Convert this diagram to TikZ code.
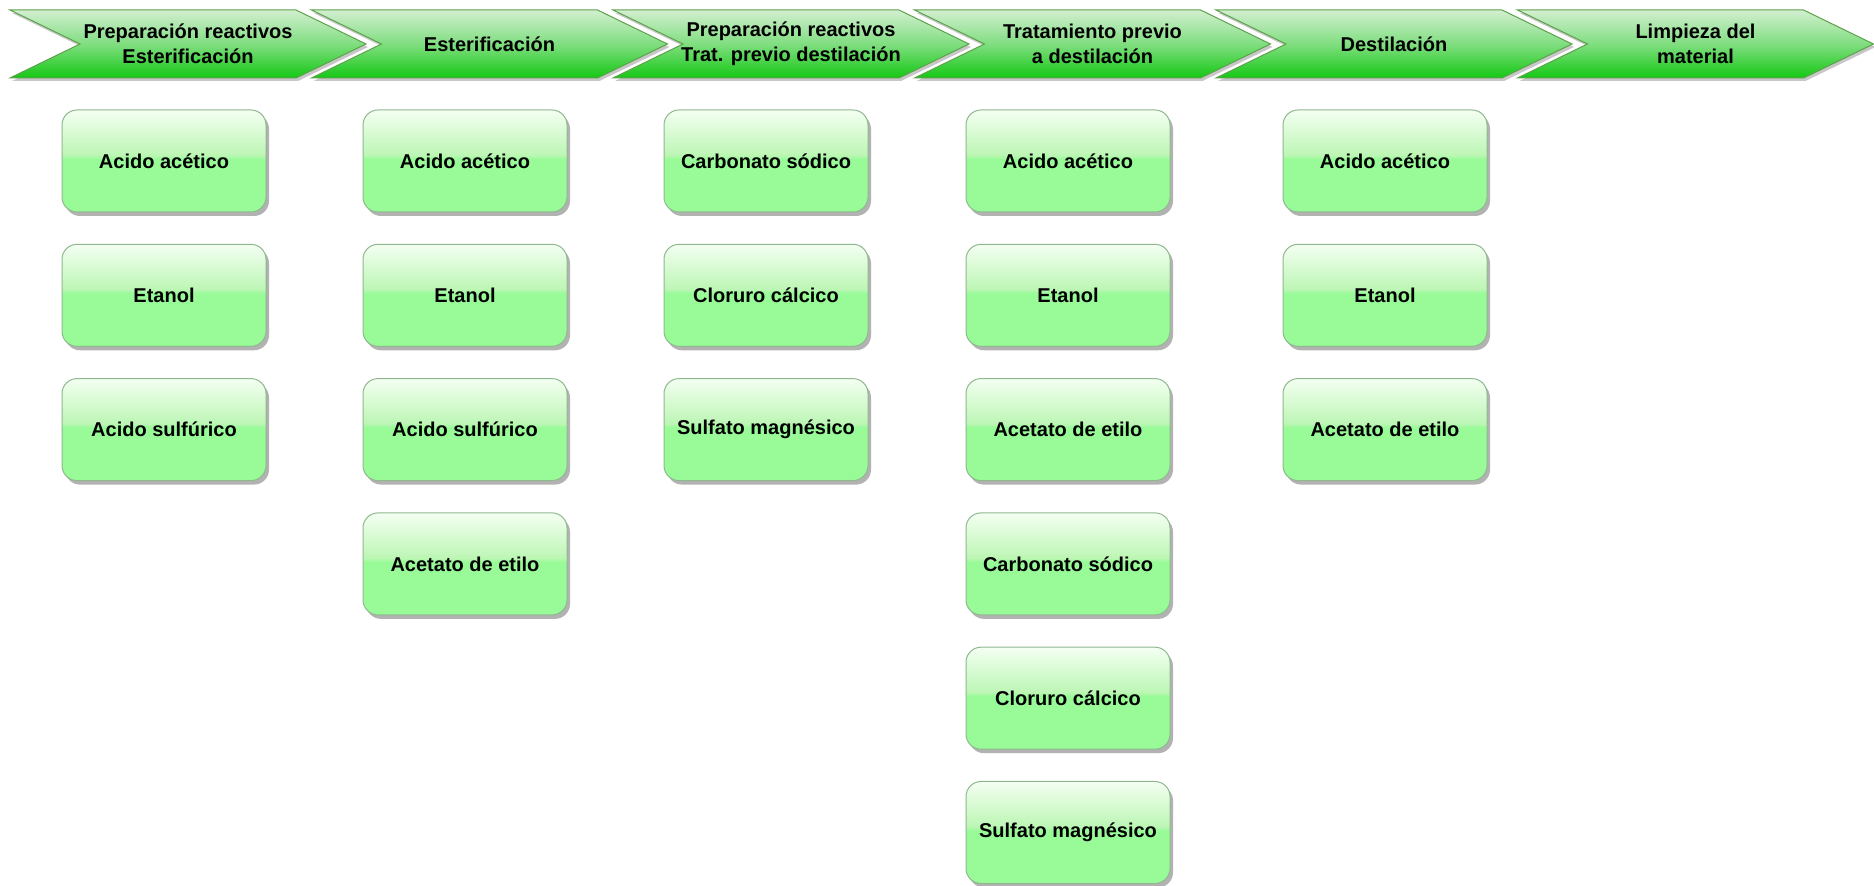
\documentclass[tikz,border=0pt]{standalone}
\usepackage{fontspec}
\setmainfont{Liberation Sans}
\usetikzlibrary{shadows}
\definecolor{boxT}{HTML}{F4FFF2}
\definecolor{boxM}{HTML}{BDF6B5}
\definecolor{boxB}{HTML}{98FB98}
\definecolor{boxE}{HTML}{8FB88F}
\definecolor{chevT}{HTML}{D2EFD0}
\definecolor{chevM}{HTML}{80DE80}
\definecolor{chevB}{HTML}{14C814}
\definecolor{chevE}{HTML}{5DA24A}
\pgfdeclareverticalshading{gloss}{100bp}{color(0bp)=(boxB); color(25bp)=(boxB); color(51bp)=(boxB); color(53bp)=(boxM); color(75bp)=(boxT); color(100bp)=(boxT)}
\tikzset{
  chevshape/.style={draw=chevE, line width=0.5pt, top color=chevT, bottom color=chevB, middle color=chevM},
  chevshadow/.style={fill=black!22},
  chevtext/.style={font=\fontsize{10}{12.5}\selectfont\bfseries, align=center, inner sep=0pt},
  itembox/.style={rounded corners=7.5pt, minimum width=102pt, minimum height=51pt, inner sep=0pt,
    draw=boxE, line width=0.5pt, shading=gloss,
    drop shadow={shadow xshift=1.5pt, shadow yshift=-2pt, opacity=0.3, fill=black},
    font=\fontsize{10}{12.5}\selectfont\bfseries}
}
\newcommand\mychev[3]{%
  \fill[chevshadow] ({#2+2},13) -- ({#2+288},13) -- ({#2+358},47) -- ({#2+288},81) -- ({#2+2},81) -- ({#2+72},47) -- cycle;
  \path[chevshape] (#2,10) -- ({#2+286},10) -- ({#2+356},44) -- ({#2+286},78) -- (#2,78) -- ({#2+70},44) -- cycle;
  \node[chevtext] (#1) at ({#2+178},44) {#3};
}
\begin{document}
\begin{tikzpicture}[x=0.5pt, y=-0.5pt]
\useasboundingbox (0,0) rectangle (1874,886);
\mychev{c1}{10}{Preparación reactivos\\Esterificación}
\mychev{c2}{311.5}{Esterificación}
\mychev{c3}{613}{Preparación reactivos\\Trat. previo destilación}
\mychev{c4}{914.5}{Tratamiento previo\\a destilación}
\mychev{c5}{1216}{Destilación}
\mychev{c6}{1517.5}{Limpieza del\\material}
% column 1
\node[itembox] (a1) at (164,161) {Acido acético};
\node[itembox] (a2) at (164,295.3) {Etanol};
\node[itembox] (a3) at (164,429.6) {Acido sulfúrico};
% column 2
\node[itembox] (b1) at (465,161) {Acido acético};
\node[itembox] (b2) at (465,295.3) {Etanol};
\node[itembox] (b3) at (465,429.6) {Acido sulfúrico};
\node[itembox] (b4) at (465,563.9) {Acetato de etilo};
% column 3
\node[itembox] (d1) at (766,161) {Carbonato sódico};
\node[itembox] (d2) at (766,295.3) {Cloruro cálcico};
\node[itembox] (d3) at (766,429.6) {Sulfato magnésico};
% column 4
\node[itembox] (e1) at (1068,161) {Acido acético};
\node[itembox] (e2) at (1068,295.3) {Etanol};
\node[itembox] (e3) at (1068,429.6) {Acetato de etilo};
\node[itembox] (e4) at (1068,563.9) {Carbonato sódico};
\node[itembox] (e5) at (1068,698.2) {Cloruro cálcico};
\node[itembox] (e6) at (1068,832.5) {Sulfato magnésico};
% column 5
\node[itembox] (f1) at (1385,161) {Acido acético};
\node[itembox] (f2) at (1385,295.3) {Etanol};
\node[itembox] (f3) at (1385,429.6) {Acetato de etilo};
\end{tikzpicture}
\end{document}
